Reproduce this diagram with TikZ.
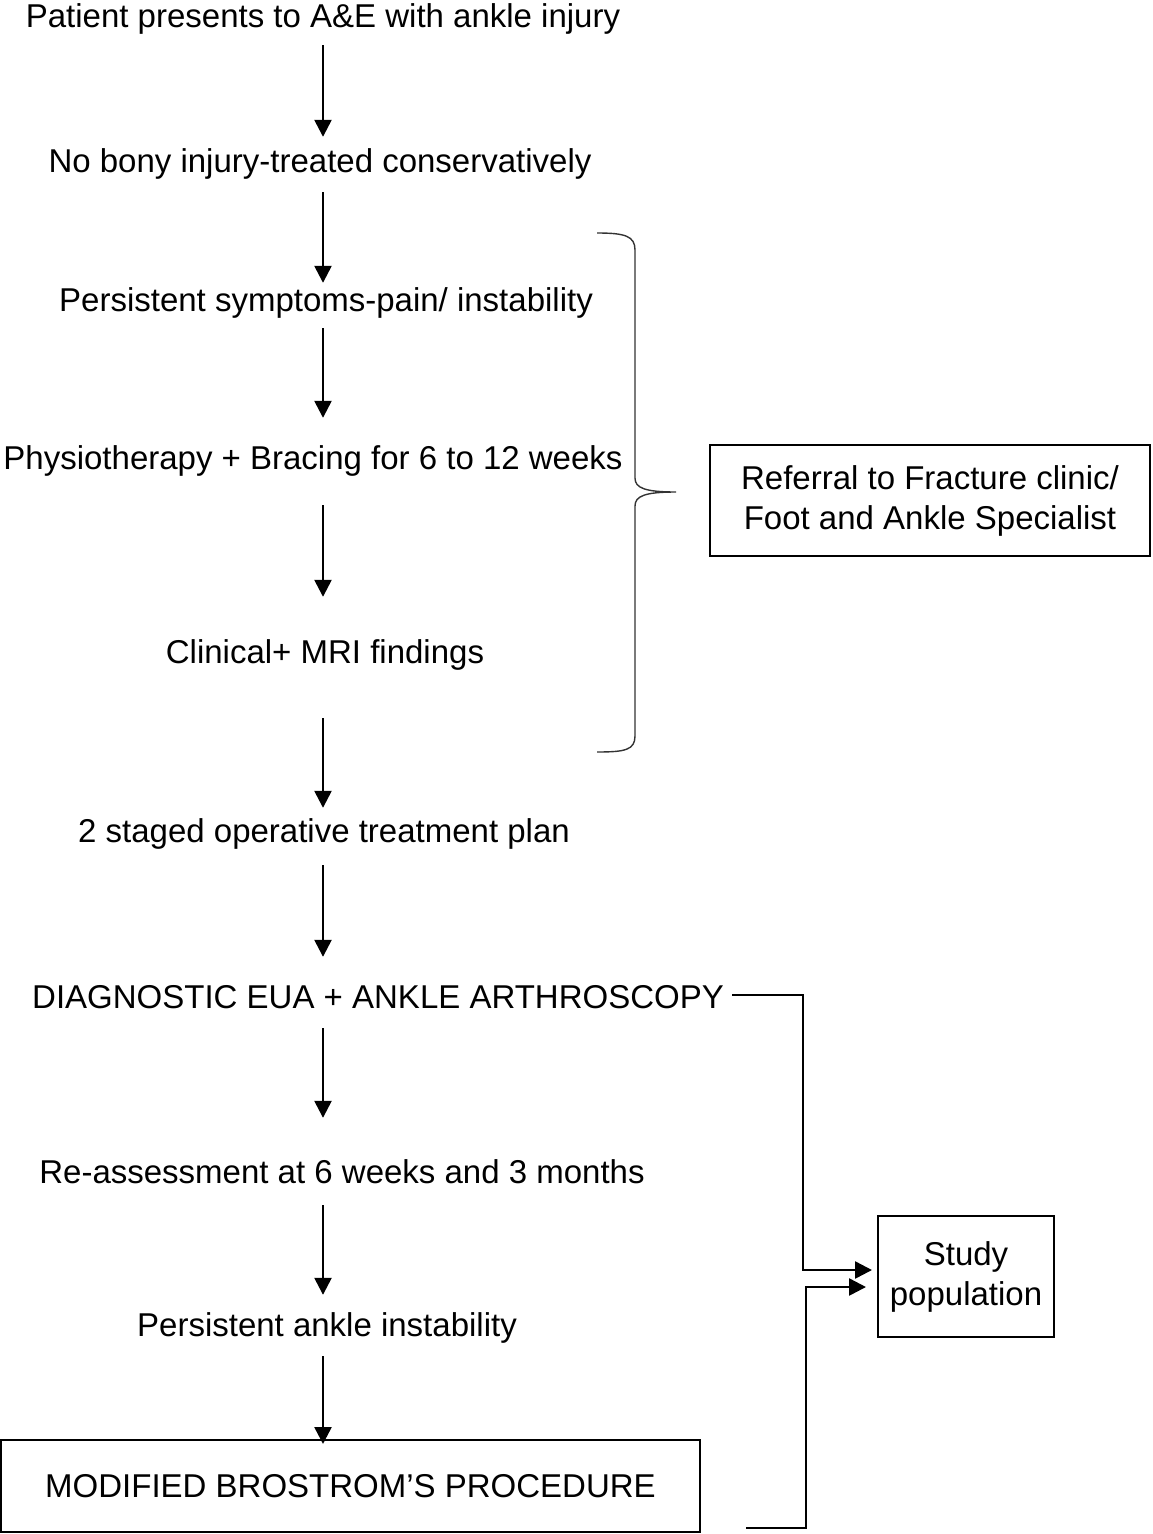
\documentclass[tikz,border=0pt]{standalone}
\usepackage{fontspec}
\setmainfont{Liberation Sans}
\usetikzlibrary{arrows.meta}
\begin{document}
\begin{tikzpicture}[x=1pt,y=-1pt,
  every node/.style={font=\fontsize{33}{40}\selectfont},
  lbl/.style={anchor=base,inner sep=0pt,text height=24pt,text depth=7pt},
  boxed/.style={draw,line width=2pt,align=center,inner sep=0pt},
  arr/.style={-{Triangle[length=17pt,width=17pt]},line width=2.5pt},
  conn/.style={-{Triangle[length=17pt,width=17pt]},line width=2.5pt},
  bracestyle/.style={line width=1.4pt,black!80}]
\useasboundingbox (0,0) rectangle (1152,1534);
\coordinate (ax) at (323,0);
\coordinate (j1) at (803,0);
\coordinate (j2) at (806,0);
% text steps
\node[lbl] (t1) at (323,27) {Patient presents to A\&E with ankle injury};
\node[lbl] (t2) at (320,172) {No bony injury-treated conservatively};
\node[lbl] (t3) at (326,311) {Persistent symptoms-pain/ instability};
\node[lbl] (t4) at (313,469) {Physiotherapy + Bracing for 6 to 12 weeks};
\node[lbl] (t5) at (325,663) {Clinical+ MRI findings};
\node[lbl] (t6) at (324,842) {2 staged operative treatment plan};
\node[lbl] (t7) at (378,1008) {DIAGNOSTIC EUA + ANKLE ARTHROSCOPY};
\node[lbl] (t8) at (342,1183) {Re-assessment at 6 weeks and 3 months};
\node[lbl] (t9) at (327,1336) {Persistent ankle instability};
\node[boxed,minimum width=699pt,minimum height=92pt] (mb) at (350.5,1486) {MODIFIED BROSTROM’S PROCEDURE};
\node[boxed,minimum width=440pt,minimum height=111pt] (ref) at (930,500.5) {Referral to Fracture clinic/\\Foot and Ankle Specialist};
\node[boxed,minimum width=176pt,minimum height=121pt] (sp) at (966,1276.5) {Study\\population};
\coordinate (c1) at ([xshift=8pt,yshift=4.5pt]t7.east);
\coordinate (c2) at ([xshift=45pt,yshift=5pt]mb.south east);
% vertical arrows
\draw[arr,shorten <=11pt,shorten >=11pt] (t1.south -| ax) -- (t2.north -| ax);
\draw[arr,shorten <=13pt,shorten >=4pt] (t2.south -| ax) -- (t3.north -| ax);
\draw[arr,shorten <=10pt,shorten >=27pt] (t3.south -| ax) -- (t4.north -| ax);
\draw[arr,shorten <=29pt,shorten >=42pt] (t4.south -| ax) -- (t5.north -| ax);
\draw[arr,shorten <=48pt,shorten >=10pt] (t5.south -| ax) -- (t6.north -| ax);
\draw[arr,shorten <=16pt,shorten >=27pt] (t6.south -| ax) -- (t7.north -| ax);
\draw[arr,shorten <=13pt,shorten >=41pt] (t7.south -| ax) -- (t8.north -| ax);
\draw[arr,shorten <=15pt,shorten >=17pt] (t8.south -| ax) -- (t9.north -| ax);
\draw[arr,shorten <=13pt,shorten >=-5pt] (t9.south -| ax) -- (mb.north -| ax);
% connectors to study population
\coordinate (s1) at ([yshift=6.5pt]sp.west);
\coordinate (s2) at ([yshift=-10.5pt]sp.west);
\draw[conn,shorten >=5pt] (c1) -- (c1 -| j1) -- (s1 -| j1) -- (s1);
\draw[conn,shorten >=11pt] (c2) -- (c2 -| j2) -- (s2 -| j2) -- (s2);
% brace
\draw[bracestyle] (597,233) .. controls (625,233) and (635,236) .. (635,250) -- (635,478) .. controls (635,488) and (645,492) .. (676,492)
  .. controls (645,492) and (635,496) .. (635,506) -- (635,736) .. controls (635,750) and (625,752) .. (597,752);
\end{tikzpicture}
\end{document}
